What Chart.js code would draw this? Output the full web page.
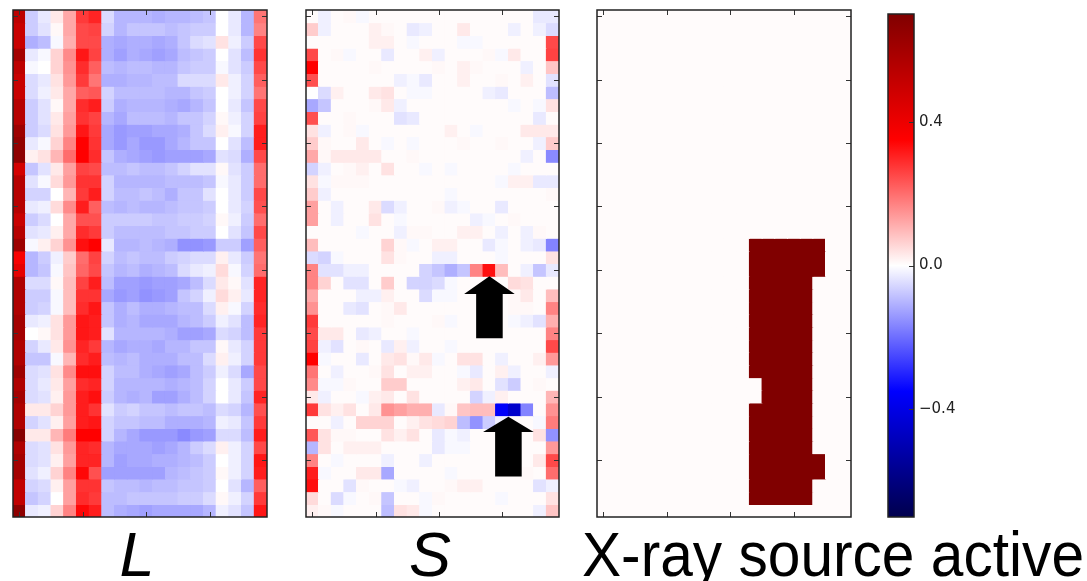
<!DOCTYPE html>
<html>
<head>
<meta charset="utf-8">
<script src="https://cdn.jsdelivr.net/npm/chart.js@4.4.1/dist/chart.umd.min.js"></script>
<style>
  html, body { margin: 0; padding: 0; background: #fff; }
  #wrap { position: relative; width: 1087px; height: 581px; overflow: hidden; }
  #wrap canvas { position: absolute; left: 0; top: 0; }
</style>
</head>
<body>
<div id="wrap">
  <canvas id="lChart" width="1087" height="581"></canvas>
  <canvas id="sChart" width="1087" height="581"></canvas>
  <canvas id="xChart" width="1087" height="581"></canvas>
  <canvas id="cbChart" width="1087" height="581"></canvas>
</div>
<script>
// Colour limits of the shared colorbar
const VMIN = -0.7;
const VMAX = 0.7;

const COLUMNS = [0, 1, 2, 3, 4, 5, 6, 7, 8, 9, 10, 11, 12, 13, 14, 15, 16, 17, 18, 19];
const X_TICKS = [0, 5, 10, 15];
const Y_TICKS = [0, 5, 10, 15, 20, 25, 30, 35];
const COLORBAR_TICKS = [-0.4, 0.0, 0.4];

// Low-rank part, one row per frame
const L_ROWS = [
	[0.53, -0.07, -0.03, 0.03, 0.12, 0.27, 0.30, -0.05, -0.10, -0.10, -0.10, -0.11, -0.10, -0.10, -0.09, -0.08, 0.00, -0.03, -0.10, 0.19],
	[0.50, -0.07, -0.04, 0.01, 0.12, 0.25, 0.26, -0.06, -0.10, -0.08, -0.08, -0.08, -0.09, -0.08, -0.07, -0.07, 0.00, -0.03, -0.10, 0.17],
	[0.50, -0.11, -0.09, -0.01, 0.11, 0.25, 0.25, -0.11, -0.12, -0.11, -0.11, -0.12, -0.11, -0.08, -0.05, -0.04, 0.04, -0.02, -0.07, 0.25],
	[0.60, -0.03, -0.01, 0.06, 0.16, 0.32, 0.26, -0.11, -0.13, -0.11, -0.12, -0.13, -0.12, -0.09, -0.08, -0.07, 0.00, -0.04, -0.09, 0.28],
	[0.53, -0.01, 0.00, 0.06, 0.15, 0.29, 0.22, -0.09, -0.10, -0.09, -0.09, -0.10, -0.10, -0.08, -0.07, -0.07, -0.01, -0.04, -0.07, 0.25],
	[0.50, -0.05, -0.03, 0.04, 0.14, 0.27, 0.19, -0.11, -0.11, -0.10, -0.10, -0.09, -0.09, -0.05, -0.05, -0.05, 0.03, -0.02, -0.06, 0.22],
	[0.50, -0.05, -0.02, 0.03, 0.12, 0.22, 0.23, -0.06, -0.09, -0.09, -0.09, -0.09, -0.10, -0.10, -0.08, -0.07, 0.00, -0.02, -0.06, 0.19],
	[0.55, -0.07, -0.04, 0.01, 0.12, 0.29, 0.31, -0.07, -0.11, -0.10, -0.10, -0.10, -0.11, -0.12, -0.10, -0.08, 0.00, -0.03, -0.08, 0.25],
	[0.55, -0.07, -0.04, 0.03, 0.13, 0.28, 0.26, -0.10, -0.12, -0.09, -0.09, -0.09, -0.10, -0.08, -0.08, -0.06, 0.01, -0.02, -0.06, 0.26],
	[0.62, -0.07, -0.05, 0.04, 0.14, 0.32, 0.27, -0.12, -0.14, -0.13, -0.13, -0.12, -0.12, -0.11, -0.08, -0.05, 0.02, -0.01, -0.06, 0.31],
	[0.65, -0.03, -0.01, 0.06, 0.17, 0.35, 0.28, -0.12, -0.14, -0.12, -0.14, -0.14, -0.12, -0.10, -0.08, -0.08, 0.00, -0.04, -0.09, 0.31],
	[0.66, 0.02, 0.04, 0.10, 0.20, 0.35, 0.29, -0.08, -0.11, -0.12, -0.13, -0.14, -0.13, -0.13, -0.13, -0.12, -0.04, -0.05, -0.11, 0.25],
	[0.47, -0.08, -0.04, 0.03, 0.13, 0.26, 0.25, -0.09, -0.09, -0.08, -0.09, -0.09, -0.08, -0.06, -0.04, -0.04, 0.01, -0.04, -0.07, 0.20],
	[0.55, -0.04, -0.01, 0.05, 0.14, 0.28, 0.28, -0.06, -0.10, -0.10, -0.10, -0.10, -0.09, -0.09, -0.09, -0.08, -0.01, -0.03, -0.07, 0.20],
	[0.55, -0.06, -0.06, 0.00, 0.10, 0.27, 0.31, -0.06, -0.09, -0.09, -0.08, -0.09, -0.11, -0.08, -0.08, -0.04, 0.00, -0.03, -0.07, 0.25],
	[0.55, -0.03, -0.02, 0.05, 0.16, 0.31, 0.22, -0.09, -0.10, -0.09, -0.10, -0.10, -0.09, -0.08, -0.08, -0.07, 0.00, -0.03, -0.06, 0.24],
	[0.50, -0.07, -0.05, 0.00, 0.12, 0.24, 0.24, -0.07, -0.07, -0.07, -0.07, -0.08, -0.08, -0.07, -0.07, -0.06, 0.01, -0.02, -0.07, 0.20],
	[0.55, -0.04, -0.03, 0.02, 0.12, 0.29, 0.27, -0.07, -0.09, -0.09, -0.09, -0.09, -0.08, -0.08, -0.07, -0.07, 0.00, -0.04, -0.08, 0.25],
	[0.62, -0.01, 0.02, 0.06, 0.15, 0.33, 0.35, -0.03, -0.10, -0.10, -0.09, -0.10, -0.11, -0.15, -0.15, -0.14, -0.07, -0.07, -0.13, 0.22],
	[0.37, -0.10, -0.07, -0.02, 0.07, 0.20, 0.26, -0.06, -0.09, -0.08, -0.09, -0.09, -0.07, -0.06, -0.05, -0.05, 0.02, -0.03, -0.07, 0.19],
	[0.42, -0.10, -0.08, -0.01, 0.08, 0.21, 0.25, -0.08, -0.10, -0.09, -0.11, -0.10, -0.09, -0.05, -0.03, -0.02, 0.05, -0.01, -0.06, 0.20],
	[0.57, -0.05, -0.05, 0.01, 0.09, 0.26, 0.31, -0.09, -0.13, -0.13, -0.14, -0.13, -0.13, -0.12, -0.09, -0.05, 0.03, 0.01, -0.04, 0.30],
	[0.57, -0.07, -0.07, -0.01, 0.09, 0.28, 0.28, -0.12, -0.14, -0.13, -0.15, -0.14, -0.13, -0.08, -0.06, -0.02, 0.05, 0.02, -0.03, 0.30],
	[0.57, -0.07, -0.06, -0.01, 0.09, 0.29, 0.32, -0.08, -0.11, -0.09, -0.11, -0.11, -0.10, -0.09, -0.09, -0.05, 0.02, -0.01, -0.06, 0.29],
	[0.60, -0.03, -0.02, 0.04, 0.14, 0.32, 0.31, -0.08, -0.11, -0.10, -0.12, -0.12, -0.12, -0.10, -0.09, -0.07, -0.02, -0.04, -0.09, 0.30],
	[0.60, 0.00, 0.01, 0.04, 0.14, 0.32, 0.31, -0.04, -0.10, -0.10, -0.10, -0.10, -0.11, -0.13, -0.13, -0.12, -0.05, -0.06, -0.09, 0.27],
	[0.57, -0.06, -0.03, 0.03, 0.15, 0.30, 0.27, -0.10, -0.12, -0.11, -0.11, -0.12, -0.10, -0.10, -0.08, -0.08, 0.01, -0.03, -0.06, 0.27],
	[0.57, -0.08, -0.08, -0.01, 0.10, 0.29, 0.31, -0.09, -0.10, -0.09, -0.11, -0.11, -0.11, -0.09, -0.09, -0.05, 0.02, -0.02, -0.06, 0.27],
	[0.62, -0.05, -0.04, 0.04, 0.16, 0.33, 0.33, -0.06, -0.09, -0.09, -0.11, -0.12, -0.13, -0.12, -0.09, -0.07, -0.02, -0.05, -0.12, 0.25],
	[0.57, -0.05, -0.03, 0.03, 0.13, 0.29, 0.30, -0.06, -0.10, -0.10, -0.10, -0.10, -0.11, -0.10, -0.09, -0.06, 0.00, -0.03, -0.07, 0.25],
	[0.60, -0.05, -0.04, 0.02, 0.14, 0.31, 0.33, -0.07, -0.10, -0.11, -0.10, -0.13, -0.13, -0.11, -0.09, -0.06, 0.00, -0.03, -0.08, 0.30],
	[0.57, 0.03, 0.03, 0.06, 0.14, 0.31, 0.28, -0.04, -0.07, -0.06, -0.08, -0.08, -0.09, -0.08, -0.08, -0.09, -0.05, -0.06, -0.10, 0.24],
	[0.57, -0.06, -0.04, 0.02, 0.13, 0.31, 0.32, -0.06, -0.08, -0.08, -0.09, -0.09, -0.11, -0.11, -0.11, -0.10, -0.02, -0.03, -0.08, 0.27],
	[0.68, 0.03, 0.03, 0.10, 0.18, 0.35, 0.35, -0.06, -0.10, -0.12, -0.14, -0.14, -0.14, -0.16, -0.14, -0.13, -0.05, -0.05, -0.09, 0.31],
	[0.57, -0.05, -0.04, 0.04, 0.14, 0.30, 0.29, -0.10, -0.12, -0.12, -0.12, -0.13, -0.12, -0.10, -0.07, -0.05, 0.02, -0.02, -0.06, 0.25],
	[0.60, -0.05, -0.04, 0.02, 0.13, 0.30, 0.30, -0.10, -0.13, -0.12, -0.12, -0.11, -0.11, -0.10, -0.09, -0.07, 0.00, -0.02, -0.06, 0.32],
	[0.60, -0.04, -0.02, 0.06, 0.17, 0.34, 0.24, -0.13, -0.13, -0.13, -0.13, -0.13, -0.10, -0.09, -0.08, -0.07, 0.01, -0.02, -0.06, 0.31],
	[0.52, -0.06, -0.05, 0.02, 0.13, 0.28, 0.28, -0.08, -0.09, -0.09, -0.10, -0.09, -0.09, -0.08, -0.08, -0.07, 0.00, -0.04, -0.10, 0.22],
	[0.52, -0.08, -0.06, 0.00, 0.13, 0.29, 0.27, -0.09, -0.09, -0.08, -0.08, -0.08, -0.08, -0.07, -0.07, -0.05, 0.01, -0.02, -0.06, 0.27],
	[0.66, -0.03, -0.02, 0.06, 0.17, 0.34, 0.31, -0.09, -0.11, -0.12, -0.13, -0.12, -0.12, -0.12, -0.12, -0.10, -0.02, -0.04, -0.08, 0.32],
];

// Sparse part: near-zero background plus the visible cells [row, column, value]
const S_BACKGROUND = 0.005;
const S_CELLS = [
	[0, 1, -0.02], [0, 3, 0.01], [0, 4, -0.01], [0, 18, -0.03], [0, 19, -0.03],
	[1, 0, 0.07], [1, 1, -0.02], [1, 5, 0.02], [1, 6, 0.01], [1, 8, -0.03], [1, 9, -0.02], [1, 12, 0.03], [1, 16, -0.02], [1, 18, -0.02], [1, 19, -0.05],
	[2, 5, 0.02], [2, 6, 0.02], [2, 8, -0.01], [2, 12, -0.01], [2, 13, -0.01], [2, 19, 0.25],
	[3, 0, 0.25], [3, 2, 0.01], [3, 3, -0.01], [3, 6, -0.03], [3, 9, 0.02], [3, 10, -0.02], [3, 14, 0.01], [3, 15, -0.01], [3, 16, 0.03], [3, 19, 0.26],
	[4, 0, 0.35], [4, 5, 0.01], [4, 10, 0.01], [4, 12, 0.02], [4, 13, 0.01], [4, 17, -0.02], [4, 19, 0.08],
	[5, 0, 0.24], [5, 7, -0.02], [5, 8, -0.01], [5, 9, -0.03], [5, 12, 0.02], [5, 15, 0.01], [5, 17, 0.02], [5, 19, -0.04],
	[6, 0, 0.0], [6, 1, -0.05], [6, 2, 0.02], [6, 5, 0.03], [6, 6, 0.04], [6, 8, -0.01], [6, 9, -0.01], [6, 14, -0.02], [6, 15, -0.03], [6, 19, -0.09],
	[7, 0, -0.12], [7, 1, -0.08], [7, 5, 0.01], [7, 6, 0.03], [7, 7, -0.02], [7, 16, -0.01], [7, 18, -0.01], [7, 19, 0.04],
	[8, 0, 0.24], [8, 3, 0.01], [8, 7, -0.04], [8, 8, -0.03], [8, 18, -0.03],
	[9, 0, 0.04], [9, 1, -0.02], [9, 3, 0.01], [9, 4, -0.01], [9, 11, 0.02], [9, 13, -0.01], [9, 17, 0.03], [9, 18, 0.03], [9, 19, 0.03],
	[10, 0, 0.07], [10, 1, 0.01], [10, 4, 0.03], [10, 6, -0.01], [10, 8, -0.01], [10, 12, 0.01], [10, 15, 0.01], [10, 18, -0.02], [10, 19, 0.07],
	[11, 0, 0.12], [11, 1, 0.01], [11, 2, 0.03], [11, 3, 0.03], [11, 4, 0.03], [11, 5, 0.03], [11, 8, 0.01], [11, 17, -0.02], [11, 19, -0.16],
	[12, 0, -0.06], [12, 1, -0.02], [12, 3, 0.01], [12, 4, 0.02], [12, 6, 0.04], [12, 9, -0.01], [12, 11, -0.01], [12, 16, -0.01],
	[13, 0, 0.04], [13, 1, -0.01], [13, 2, 0.01], [13, 3, 0.01], [13, 4, 0.01], [13, 15, -0.01], [13, 16, 0.02], [13, 17, 0.02], [13, 18, -0.03], [13, 19, -0.03],
	[14, 0, 0.07], [14, 1, -0.02], [14, 11, -0.01], [14, 19, 0.01],
	[15, 0, 0.13], [15, 2, -0.02], [15, 5, 0.03], [15, 6, -0.05], [15, 7, -0.02], [15, 10, 0.01], [15, 11, -0.02], [15, 12, -0.01], [15, 15, -0.03],
	[16, 0, 0.13], [16, 2, -0.02], [16, 5, 0.04], [16, 7, -0.01], [16, 13, -0.02], [16, 14, -0.01], [16, 16, 0.01],
	[17, 4, -0.01], [17, 7, -0.02], [17, 8, 0.01], [17, 9, 0.01], [17, 12, 0.02], [17, 13, 0.02], [17, 15, -0.02], [17, 17, -0.02], [17, 18, 0.01],
	[18, 0, 0.09], [18, 6, 0.06], [18, 7, 0.01], [18, 8, -0.01], [18, 10, 0.02], [18, 11, 0.02], [18, 14, -0.03], [18, 15, -0.01], [18, 17, -0.02], [18, 18, -0.03], [18, 19, -0.17],
	[19, 0, -0.05], [19, 1, -0.06], [19, 2, -0.01], [19, 6, 0.04], [19, 7, 0.01], [19, 10, -0.02], [19, 11, -0.02], [19, 15, -0.01], [19, 19, 0.04],
	[20, 0, 0.17], [20, 1, -0.04], [20, 2, -0.04], [20, 3, -0.02], [20, 4, -0.02], [20, 9, -0.06], [20, 10, -0.08], [20, 11, -0.11], [20, 12, -0.08], [20, 13, 0.17], [20, 14, 0.33], [20, 15, 0.09], [20, 17, -0.02], [20, 18, -0.08], [20, 19, -0.03],
	[21, 0, 0.17], [21, 1, 0.06], [21, 3, -0.04], [21, 4, -0.04], [21, 6, 0.07], [21, 8, -0.06], [21, 9, -0.06], [21, 10, -0.05], [21, 11, -0.01], [21, 16, 0.05], [21, 17, 0.04],
	[22, 0, 0.12], [22, 4, -0.02], [22, 5, -0.02], [22, 6, 0.02], [22, 9, -0.05], [22, 10, -0.01], [22, 11, -0.01], [22, 16, 0.01], [22, 17, 0.03], [22, 19, 0.09],
	[23, 0, 0.15], [23, 3, -0.03], [23, 4, -0.04], [23, 6, 0.01], [23, 7, 0.03], [23, 16, 0.01], [23, 17, 0.01], [23, 19, 0.17],
	[24, 0, 0.27], [24, 6, 0.01], [24, 10, 0.01], [24, 11, -0.01], [24, 16, -0.01], [24, 17, -0.02], [24, 18, -0.04], [24, 19, 0.11],
	[25, 0, 0.25], [25, 1, 0.03], [25, 2, 0.03], [25, 4, -0.03], [25, 5, -0.02], [25, 8, -0.01], [25, 19, 0.17],
	[26, 0, 0.26], [26, 1, -0.02], [26, 2, -0.04], [26, 4, 0.01], [26, 6, -0.03], [26, 7, 0.02], [26, 8, -0.02], [26, 11, -0.01], [26, 19, 0.25],
	[27, 0, 0.35], [27, 1, -0.01], [27, 4, -0.03], [27, 6, 0.03], [27, 7, 0.04], [27, 8, 0.01], [27, 9, 0.03], [27, 10, -0.01], [27, 12, 0.04], [27, 13, 0.04], [27, 15, -0.02], [27, 18, 0.02], [27, 19, 0.14],
	[28, 0, 0.19], [28, 2, -0.02], [28, 5, 0.01], [28, 6, 0.04], [28, 8, 0.02], [28, 9, 0.02], [28, 12, -0.01], [28, 13, -0.03], [28, 15, 0.02], [28, 16, -0.02], [28, 19, -0.02],
	[29, 0, 0.16], [29, 1, -0.01], [29, 2, -0.01], [29, 3, 0.01], [29, 6, 0.07], [29, 7, 0.07], [29, 12, 0.02], [29, 13, 0.03], [29, 15, -0.04], [29, 16, -0.07], [29, 18, 0.01],
	[30, 0, 0.03], [30, 1, -0.02], [30, 4, -0.01], [30, 5, 0.02], [30, 6, 0.03], [30, 8, 0.04], [30, 13, -0.06], [30, 14, -0.02], [30, 15, 0.02], [30, 19, 0.10],
	[31, 0, 0.27], [31, 1, 0.04], [31, 2, 0.02], [31, 3, 0.04], [31, 5, 0.03], [31, 6, 0.15], [31, 7, 0.13], [31, 8, 0.11], [31, 9, 0.11], [31, 10, -0.03], [31, 11, 0.01], [31, 12, 0.08], [31, 13, 0.09], [31, 14, 0.09], [31, 15, -0.36], [31, 16, -0.45], [31, 17, -0.17], [31, 19, 0.15],
	[32, 2, -0.02], [32, 4, 0.06], [32, 5, 0.06], [32, 6, 0.06], [32, 8, 0.02], [32, 9, 0.04], [32, 10, 0.05], [32, 11, 0.06], [32, 12, -0.09], [32, 13, -0.15], [32, 14, -0.07], [32, 15, -0.02], [32, 18, -0.01], [32, 19, 0.18],
	[33, 0, 0.23], [33, 1, 0.04], [33, 2, 0.01], [33, 3, 0.01], [33, 6, 0.04], [33, 7, 0.02], [33, 8, 0.04], [33, 10, -0.03], [33, 11, -0.01], [33, 12, -0.02], [33, 18, 0.04], [33, 19, -0.15],
	[34, 0, -0.10], [34, 1, 0.04], [34, 3, 0.02], [34, 4, 0.02], [34, 5, 0.02], [34, 10, -0.03], [34, 11, -0.01], [34, 12, -0.01], [34, 19, 0.14],
	[35, 0, 0.17], [35, 2, -0.01], [35, 6, -0.02], [35, 9, -0.02], [35, 18, 0.03], [35, 19, 0.25],
	[36, 0, 0.31], [36, 1, -0.01], [36, 4, 0.03], [36, 5, 0.03], [36, 6, -0.12], [36, 11, -0.01], [36, 17, 0.01], [36, 19, 0.20],
	[37, 0, 0.33], [37, 3, -0.04], [37, 4, 0.01], [37, 7, -0.01], [37, 8, -0.02], [37, 11, 0.01], [37, 12, 0.02], [37, 13, 0.02], [37, 18, -0.04], [37, 19, -0.02],
	[38, 0, 0.05], [38, 2, -0.05], [38, 3, -0.01], [38, 5, 0.01], [38, 6, -0.08], [38, 9, -0.01], [38, 10, 0.01], [38, 15, -0.01], [38, 19, 0.04],
	[39, 0, 0.02], [39, 1, 0.01], [39, 2, -0.01], [39, 6, -0.09], [39, 7, 0.04], [39, 8, 0.03], [39, 9, -0.01], [39, 18, -0.02], [39, 19, 0.08],
];

// Ground truth mask: 1 where the X-ray source is on
const XRAY_ON = 0.7;
const XRAY_OFF = 0.005;
const XRAY_ROWS = [
	'00000000000000000000', '00000000000000000000', '00000000000000000000', '00000000000000000000',
	'00000000000000000000', '00000000000000000000', '00000000000000000000', '00000000000000000000',
	'00000000000000000000', '00000000000000000000', '00000000000000000000', '00000000000000000000',
	'00000000000000000000', '00000000000000000000', '00000000000000000000', '00000000000000000000',
	'00000000000000000000', '00000000000000000000', '00000000000011111100', '00000000000011111100',
	'00000000000011111100', '00000000000011111000', '00000000000011111000', '00000000000011111000',
	'00000000000011111000', '00000000000011111000', '00000000000011111000', '00000000000011111000',
	'00000000000011111000', '00000000000001111000', '00000000000001111000', '00000000000011111000',
	'00000000000011111000', '00000000000011111000', '00000000000011111000', '00000000000011111100',
	'00000000000011111100', '00000000000011111000', '00000000000011111000', '00000000000000000000',
];

// Arrows in the S panel, in cell units
const ARROWS = [
	{ col: 14.0, tip: 20.5, neck: 21.9, tail: 25.4 },
	{ col: 15.5, tip: 31.6, neck: 32.8, tail: 36.3 },
];
const ARROW_HEAD = 2.0;
const ARROW_SHAFT = 1.05;

// matplotlib "seismic"
const SEISMIC = [[0, 0, 0.3], [0, 0, 1], [1, 1, 1], [1, 0, 0], [0.5, 0, 0]];

function seismic(v) {
	let t = Math.min(1, Math.max(0, (v - VMIN) / (VMAX - VMIN))) * 4;
	let i = Math.min(3, Math.floor(t));
	let f = t - i;
	let a = SEISMIC[i], b = SEISMIC[i + 1];
	let c = a.map((x, k) => Math.round(255 * (x + (b[k] - x) * f)));
	return `rgb(${c[0]},${c[1]},${c[2]})`;
}

function sGrid() {
	let grid = L_ROWS.map(row => row.map(() => S_BACKGROUND));
	S_CELLS.forEach(([r, c, v]) => { grid[r][c] = v; });
	return grid;
}

function xrayGrid() {
	return XRAY_ROWS.map(s => s.split('').map(ch => ch === '1' ? XRAY_ON : XRAY_OFF));
}

// One floating bar per cell, one dataset per row
function heatmapData(grid) {
	return {
		labels: COLUMNS,
		datasets: grid.map((row, r) => {
			let colors = row.map(seismic);
			return {
				data: row.map(() => [r - 0.5, r + 0.5]),
				backgroundColor: colors,
				borderColor: colors,
			};
		}),
	};
}

const TICK_LEN = 5;

function makeFrame(xTicks, yTicks, leftTicks) {
	return {
		id: 'frame',
		afterDatasetsDraw(chart) {
			let { ctx, chartArea: a, scales } = chart;
			ctx.save();
			ctx.strokeStyle = '#333';
			ctx.lineWidth = 1;
			ctx.beginPath();
			xTicks.forEach(v => {
				let x = Math.round(scales.x.getPixelForValue(v)) + 0.5;
				ctx.moveTo(x, a.top); ctx.lineTo(x, a.top + TICK_LEN);
				ctx.moveTo(x, a.bottom); ctx.lineTo(x, a.bottom - TICK_LEN);
			});
			yTicks.forEach(v => {
				let y = Math.round(scales.y.getPixelForValue(v)) + 0.5;
				if (leftTicks) { ctx.moveTo(a.left, y); ctx.lineTo(a.left + TICK_LEN, y); }
				ctx.moveTo(a.right, y); ctx.lineTo(a.right - TICK_LEN, y);
			});
			ctx.stroke();
			ctx.lineWidth = 1.5;
			ctx.strokeStyle = '#222';
			ctx.strokeRect(a.left, a.top, a.right - a.left, a.bottom - a.top);
			ctx.restore();
		},
	};
}

function makeCaption(text, x, italic, maxWidth) {
	return {
		id: 'caption',
		afterDraw(chart) {
			let ctx = chart.ctx;
			ctx.save();
			ctx.fillStyle = '#000';
			ctx.font = (italic ? 'italic ' : '') + "63px 'Liberation Sans', Arial, sans-serif";
			ctx.textAlign = 'center';
			ctx.textBaseline = 'alphabetic';
			ctx.fillText(text, x, 576, maxWidth);
			ctx.restore();
		},
	};
}

const arrowPlugin = {
	id: 'arrows',
	afterDatasetsDraw(chart) {
		let { ctx, scales: { x, y } } = chart;
		let px = v => x.getPixelForValue(v);
		let py = v => y.getPixelForValue(v);
		ctx.save();
		ctx.fillStyle = '#000';
		ARROWS.forEach(a => {
			ctx.beginPath();
			ctx.moveTo(px(a.col), py(a.tip));
			ctx.lineTo(px(a.col + ARROW_HEAD), py(a.neck));
			ctx.lineTo(px(a.col + ARROW_SHAFT), py(a.neck));
			ctx.lineTo(px(a.col + ARROW_SHAFT), py(a.tail));
			ctx.lineTo(px(a.col - ARROW_SHAFT), py(a.tail));
			ctx.lineTo(px(a.col - ARROW_SHAFT), py(a.neck));
			ctx.lineTo(px(a.col - ARROW_HEAD), py(a.neck));
			ctx.closePath();
			ctx.fill();
		});
		ctx.restore();
	},
};

function heatmapOptions(left, right) {
	return {
		responsive: false,
		animation: false,
		events: [],
		devicePixelRatio: 1,
		layout: { padding: { left: left, right: 1087 - right, top: 10, bottom: 64 } },
		datasets: {
			// a hairline border lets inflateAmount overlap neighbouring cells, so no seams show
			bar: {
				grouped: false, barPercentage: 1, categoryPercentage: 1,
				borderWidth: 0.01, borderSkipped: false, inflateAmount: 0.6,
			},
		},
		scales: {
			x: { type: 'category', display: false },
			y: { type: 'linear', display: false, min: -0.5, max: 39.5, reverse: true },
		},
		plugins: { legend: { display: false }, tooltip: { enabled: false } },
	};
}

new Chart(document.getElementById('lChart'), {
	type: 'bar',
	data: heatmapData(L_ROWS),
	options: heatmapOptions(13, 267),
	plugins: [makeFrame(X_TICKS, Y_TICKS, true), makeCaption('L', 137, true)],
});

new Chart(document.getElementById('sChart'), {
	type: 'bar',
	data: heatmapData(sGrid()),
	options: heatmapOptions(306, 559),
	plugins: [arrowPlugin, makeFrame(X_TICKS, Y_TICKS, true), makeCaption('S', 430, true)],
});

new Chart(document.getElementById('xChart'), {
	type: 'bar',
	data: heatmapData(xrayGrid()),
	options: heatmapOptions(597, 851),
	plugins: [makeFrame(X_TICKS, Y_TICKS, true), makeCaption('X-ray source active', 833, false, 502)],
});

// Colorbar: a single floating bar filled with the colormap
function colorbarFill(context) {
	let chart = context.chart;
	let area = chart.chartArea;
	if (!area) return null;
	let g = chart.ctx.createLinearGradient(0, area.bottom, 0, area.top);
	SEISMIC.forEach((c, i) => {
		g.addColorStop(i / 4, `rgb(${c.map(x => Math.round(x * 255)).join(',')})`);
	});
	return g;
}

new Chart(document.getElementById('cbChart'), {
	type: 'bar',
	data: {
		labels: [''],
		datasets: [{ data: [[VMIN, VMAX]], backgroundColor: colorbarFill }],
	},
	options: {
		responsive: false,
		animation: false,
		events: [],
		devicePixelRatio: 1,
		layout: { padding: { left: 888, right: 113, top: 10, bottom: 64 } },
		datasets: { bar: { barPercentage: 1, categoryPercentage: 1, borderWidth: 0 } },
		scales: {
			x: { type: 'category', display: false },
			y: {
				position: 'right',
				min: VMIN,
				max: VMAX,
				afterFit: s => { s.width = 60; },
				afterBuildTicks: s => { s.ticks = COLORBAR_TICKS.map(v => ({ value: v })); },
				grid: { display: false, drawTicks: false },
				border: { display: false },
				ticks: {
					padding: 5,
					color: '#222',
					font: { family: 'DejaVu Sans', size: 15 },
					callback: v => (v < 0 ? '\u2212' : '') + Math.abs(v).toFixed(1),
				},
			},
		},
		plugins: { legend: { display: false }, tooltip: { enabled: false } },
	},
	plugins: [makeFrame([], COLORBAR_TICKS, false)],
});
</script>
</body>
</html>
